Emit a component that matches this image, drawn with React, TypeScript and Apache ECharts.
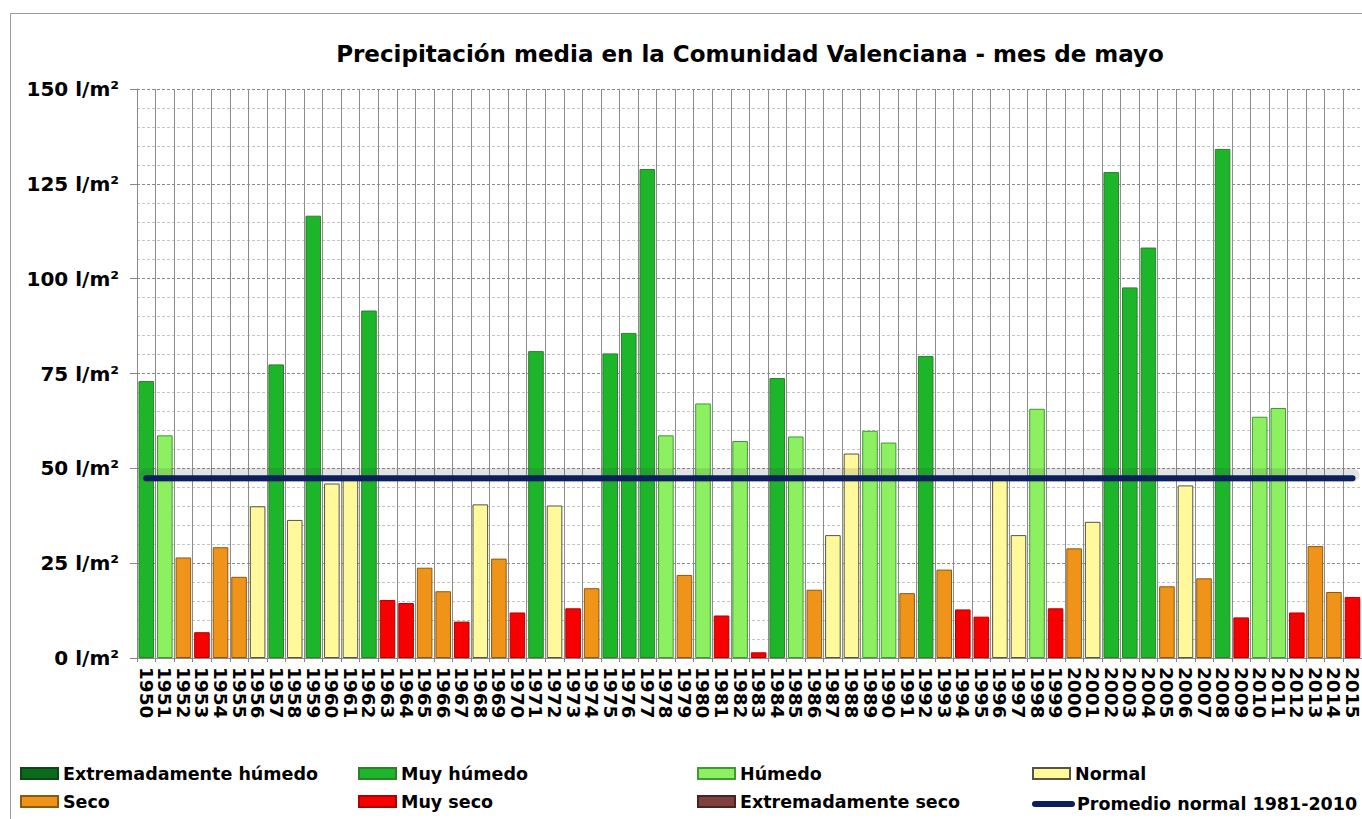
import React, { useEffect, useRef } from "react";
import * as echarts from "echarts";

const years = [
  "1950","1951","1952","1953","1954","1955","1956","1957","1958","1959",
  "1960","1961","1962","1963","1964","1965","1966","1967","1968","1969",
  "1970","1971","1972","1973","1974","1975","1976","1977","1978","1979",
  "1980","1981","1982","1983","1984","1985","1986","1987","1988","1989",
  "1990","1991","1992","1993","1994","1995","1996","1997","1998","1999",
  "2000","2001","2002","2003","2004","2005","2006","2007","2008","2009",
  "2010","2011","2012","2013","2014","2015",
];

const precipitation = [
  73.0, 58.7, 26.5, 6.8, 29.2, 21.4, 40.0, 77.4, 36.4, 116.6,
  46.0, 47.0, 91.6, 15.3, 14.5, 23.8, 17.6, 9.6, 40.5, 26.2,
  12.0, 80.9, 40.2, 13.1, 18.4, 80.3, 85.7, 128.9, 58.7, 21.9,
  67.1, 11.2, 57.2, 1.5, 73.8, 58.4, 18.0, 32.4, 53.9, 59.9,
  56.8, 17.1, 79.6, 23.3, 12.8, 10.9, 47.3, 32.4, 65.7, 13.1,
  28.9, 35.9, 128.1, 97.7, 108.2, 18.9, 45.5, 21.0, 134.2, 10.7,
  63.6, 65.9, 12.0, 29.5, 17.4, 16.1,
];

// EH = Extremadamente húmedo, MH = Muy húmedo, H = Húmedo, N = Normal,
// S = Seco, MS = Muy seco, ES = Extremadamente seco
const yearClass = [
  "MH","H","S","MS","S","S","N","MH","N","MH",
  "N","N","MH","MS","MS","S","S","MS","N","S",
  "MS","MH","N","MS","S","MH","MH","MH","H","S",
  "H","MS","H","MS","MH","H","S","N","N","H",
  "H","S","MH","S","MS","MS","N","N","H","MS",
  "S","N","MH","MH","MH","S","N","S","MH","MS",
  "H","H","MS","S","S","MS",
];

const classCodes = ["EH", "MH", "H", "N", "S", "MS", "ES"];
const classNames = [
  "Extremadamente húmedo",
  "Muy húmedo",
  "Húmedo",
  "Normal",
  "Seco",
  "Muy seco",
  "Extremadamente seco",
];
const classColors = ["#0b6a1b", "#1db52a", "#8cf060", "#fff99c", "#ef9418", "#f70000", "#7e3f3f"];
const classBorders = ["#0a4a12", "#2f7f2a", "#3e9a35", "#555544", "#8a5a12", "#b00000", "#4a2222"];

const normalAverage = 47.4;
const averageName = "Promedio normal 1981-2010";
const averageColor = "#0b1f5e";

const yTicks = { min: 0, max: 150, interval: 25 };
const titleText = "Precipitación media en la Comunidad Valenciana - mes de mayo";

// legend slots: column left positions and row centres
const legendColumns = [20, 358, 697, 1032];
const legendRows = [770, 798];

export default function App() {
  const ref = useRef<HTMLDivElement>(null);

  useEffect(() => {
    if (!ref.current) return;
    const chart = echarts.init(ref.current, null, { renderer: "svg" });

    const barSeries = classCodes.map((code, ci) => ({
      name: classNames[ci],
      type: "bar",
      barWidth: "84%",
      barGap: "-100%",
      data: precipitation.map((v, i) => (yearClass[i] === code ? v : null)),
      itemStyle: {
        color: classColors[ci],
        borderColor: classBorders[ci],
        borderWidth: 1,
      },
      z: 3,
    }));

    const shadowSeries = {
      name: "sombra",
      type: "line",
      data: years.map(() => normalAverage + 0.8),
      symbol: "none",
      silent: true,
      lineStyle: { color: "rgba(60,60,60,0.14)", width: 14, cap: "round" },
      z: 4,
    };

    const lineSeries = {
      name: averageName,
      type: "line",
      data: years.map(() => normalAverage),
      symbol: "none",
      lineStyle: { color: averageColor, width: 6, cap: "round" },
      itemStyle: { color: averageColor },
      z: 5,
    };

    const legendNames = [...classNames, averageName];
    const legends = legendNames.map((name, i) => {
      const col = i % 4;
      const row = Math.floor(i / 4);
      const isLine = name === averageName;
      const h = isLine ? 6 : 11;
      const base: any = {
        data: [name],
        left: legendColumns[col],
        top: legendRows[row] - h / 2,
        orient: "horizontal",
        itemWidth: 37,
        itemHeight: h,
        itemGap: 0,
        padding: 0,
        textStyle: {
          fontFamily: "DejaVu Sans",
          fontWeight: "bold",
          fontSize: 17.5,
          color: "#000",
        },
      };
      if (isLine) {
        base.itemStyle = { color: averageColor, borderWidth: 0 };
        base.lineStyle = { width: 6, cap: "round", color: averageColor };
      } else {
        base.icon = "rect";
      }
      return base;
    });

    chart.setOption({
      animation: false,
      backgroundColor: "#ffffff",
      title: {
        text: titleText,
        left: 745,
        textAlign: "center",
        top: 37,
        textStyle: {
          fontFamily: "DejaVu Sans",
          fontWeight: "bold",
          fontSize: 23,
          color: "#000",
        },
      },
      graphic: [
        {
          type: "rect",
          shape: { x: 10.5, y: 13.5, width: 1400, height: 900 },
          style: { fill: "none", stroke: "#9a9a9a", lineWidth: 1 },
          silent: true,
          z: -10,
        },
      ],
      legend: legends,
      grid: { left: 137, right: 0, top: 89, bottom: 161, containLabel: false },
      xAxis: {
        type: "category",
        data: years,
        boundaryGap: true,
        axisLine: { show: true, lineStyle: { color: "#888", width: 1 } },
        axisTick: { show: true, length: 4, interval: 0, lineStyle: { color: "#888" } },
        axisLabel: {
          interval: 0,
          rotate: -90,
          margin: 9,
          fontFamily: "DejaVu Sans",
          fontWeight: "bold",
          fontSize: 18.5,
          color: "#000",
        },
        splitLine: { show: true, interval: 0, lineStyle: { color: "#8c8c8c", width: 1 } },
      },
      yAxis: {
        type: "value",
        min: yTicks.min,
        max: yTicks.max,
        interval: yTicks.interval,
        axisLine: { show: true, lineStyle: { color: "#888" } },
        axisTick: { show: true, length: 7, lineStyle: { color: "#888" } },
        axisLabel: {
          formatter: "{value} l/m²",
          margin: 18,
          fontFamily: "DejaVu Sans",
          fontWeight: "bold",
          fontSize: 20,
          color: "#000",
        },
        splitLine: { show: true, lineStyle: { color: "#8a8a8a", type: [3, 2], width: 1 } },
        minorTick: { show: false, splitNumber: 5 },
        minorSplitLine: { show: true, lineStyle: { color: "#c4c4c4", type: [3, 2], width: 1 } },
      },
      series: [...barSeries, shadowSeries, lineSeries],
    });

    return () => chart.dispose();
  }, []);

  return (
    <div
      ref={ref}
      style={{ position: "fixed", left: 0, top: 0, width: 1362, height: 819 }}
    />
  );
}
